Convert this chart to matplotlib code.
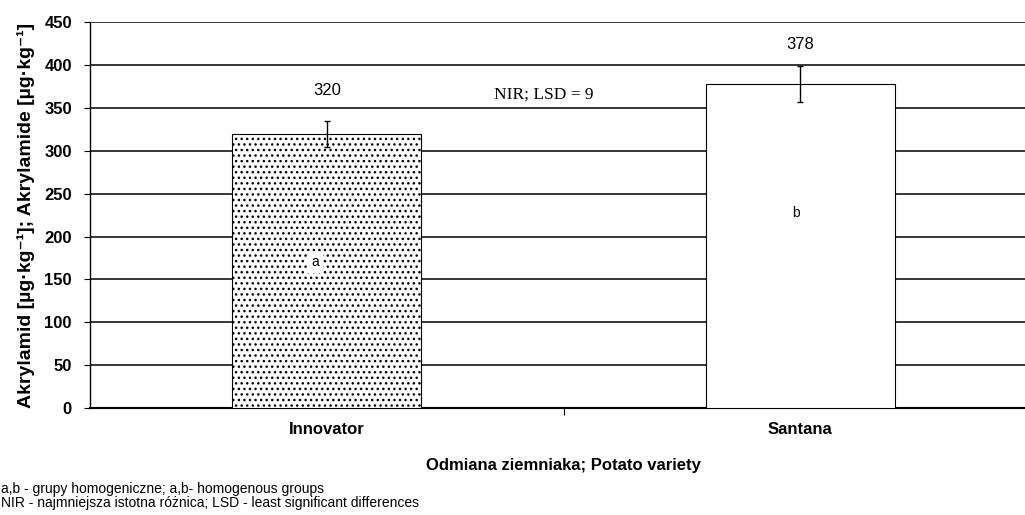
import matplotlib
matplotlib.use('Agg')
import matplotlib.pyplot as plt

plt.rcParams['font.family'] = ['Liberation Sans', 'DejaVu Sans']
plt.rcParams['hatch.linewidth'] = 1.0

varieties = ['Innovator', 'Santana']
means = [320, 378]
errors = [15, 21]
groups = ['a', 'b']
group_y = [170, 227]
label_y = [370, 424]
lsd = 9

fig = plt.figure(figsize=(10.25, 5.15), dpi=100)
ax = fig.add_axes([0.0878, 0.2078, 0.924, 0.749])

x = list(range(len(varieties)))
bars = ax.bar(x, means, width=0.4, color='white', edgecolor='black', linewidth=0.8, zorder=3)
bars[0].set_hatch('...')
ax.errorbar(x, means, yerr=errors, fmt='none', ecolor='black', elinewidth=1, capsize=2.5, capthick=1, zorder=4)

for xi, v, ly in zip(x, means, label_y):
    ax.text(xi, ly, str(v), ha='center', va='center', fontsize=12, zorder=5)
for xi, g, gy in zip(x, groups, group_y):
    ax.text(xi - 0.025 if xi == 0 else xi - 0.01, gy, g, ha='center', va='center', fontsize=10, zorder=5,
            bbox=dict(facecolor='white', edgecolor='none', pad=3))
ax.text(0.458, 366, 'NIR; LSD = ' + str(lsd), ha='center', va='center', fontsize=12.5,
        family=['Liberation Serif', 'DejaVu Serif'], zorder=5)

ax.set_xlim(-0.5, 1.5)
ax.set_ylim(0, 450)
ax.set_yticks(range(0, 451, 50))
ax.yaxis.grid(True, color='black', linewidth=1.1)
ax.set_axisbelow(True)

ax.set_xticks([0.5])
ax.set_xticklabels([''])
ax.set_xticks(x, minor=True)
ax.set_xticklabels(varieties, minor=True, fontweight='bold', fontsize=12)
ax.tick_params(axis='x', which='minor', length=0, pad=10)
ax.tick_params(axis='x', which='major', length=5, width=0.8, direction='out')
ax.tick_params(axis='y', length=4, width=0.8, direction='out', labelsize=12, pad=9)
for lab in ax.get_yticklabels():
    lab.set_fontweight('bold')

ax.spines['top'].set_visible(False)
ax.spines['right'].set_visible(False)
ax.spines['bottom'].set_linewidth(1.5)
ax.spines['left'].set_linewidth(1)

ax.set_xlabel('Odmiana ziemniaka; Potato variety', fontweight='bold', fontsize=12)
ax.set_ylabel('Akrylamid [µg·kg⁻¹]; Akrylamide [µg·kg⁻¹]', fontweight='bold', fontsize=14)
ax.xaxis.set_label_coords(0.5, -0.13)
ax.yaxis.set_label_coords(-0.058, 0.5)

fig.text(0.001, 0.0505, 'a,b - grupy homogeniczne; a,b- homogenous groups', fontsize=10, va='center')
fig.text(0.001, 0.0233, 'NIR - najmniejsza istotna różnica; LSD - least significant differences', fontsize=10, va='center')

fig.savefig('out.png', dpi=100)
